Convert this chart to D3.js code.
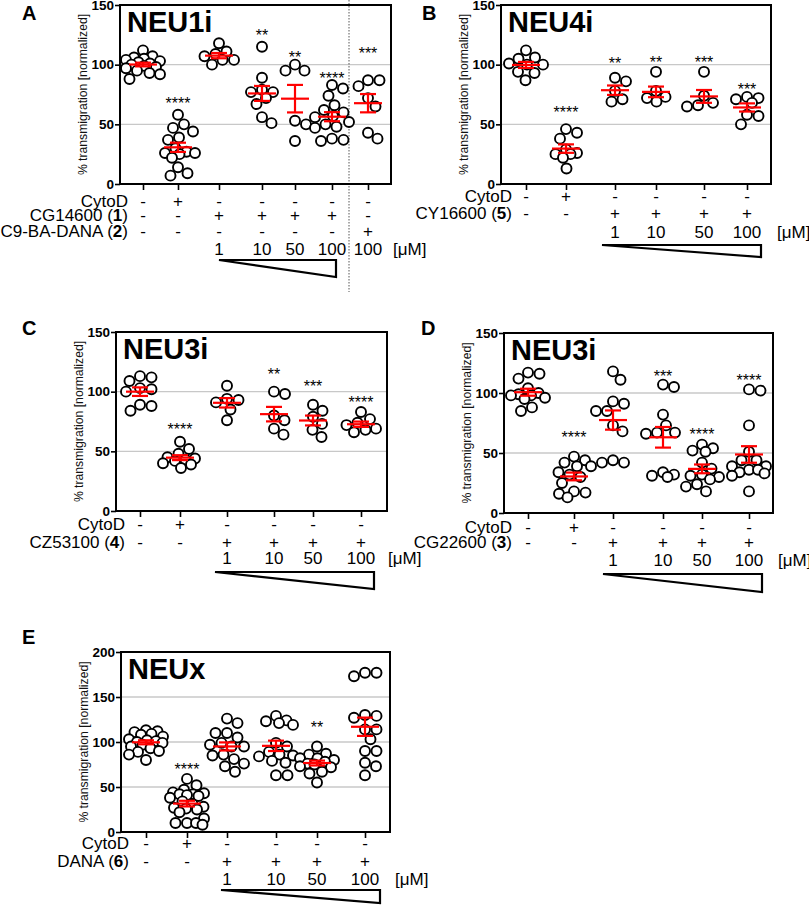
<!DOCTYPE html>
<html><head><meta charset="utf-8">
<script src="https://cdn.jsdelivr.net/npm/d3@7"></script>
<style>body{margin:0;background:#fff}svg{display:block}</style>
</head><body><svg id="c" width="809" height="905"></svg>
<script>
// ---------------- DATA ----------------
const ticks150 = [0, 50, 100, 150];
const ticks200 = [0, 50, 100, 150, 200];
const grid150 = [50, 100];
const grid200 = [50, 100, 150];

// Panel A
const A_title = "NEU1i";
const A_cols = ["ctrl", "cytoD", "c1", "c10", "c50", "c100", "dana100"];
const A_values = [
  [112,107,106,105,104,103,102,101,100,99,98,97,95,93,92,88],
  [58,50,47,44,39,37,30,27,26,26,25,22,14,9,7],
  [118,111,109,107,104,104,100],
  [115,89,79,77,77,72,67,56,51],
  [100,95,95,53,50,36],
  [83,80,74,66,62,60,57,56,52,50,48,47,38,37,36],
  [87,87,82,72,65,43,38]
];
const A_sig = ["", "****", "", "**", "**", "****", "***"];
const A_sigY = [null, 70, null, 127, 109, 91, 112];
const A_rowNames = ["CytoD", "CG14600", "C9-BA-DANA"];
const A_rowIds = [null, "1", "2"];
const A_rowSigns = [
  ["-","+","-","-","-","-","-"],
  ["-","-","+","+","+","+","-"],
  ["-","-","-","-","-","-","+"]
];
const A_conc = ["", "", "1", "10", "50", "100", "100"];

// Panel B
const B_title = "NEU4i";
const B_cols = ["ctrl", "cytoD", "c1", "c10", "c50", "c100"];
const B_values = [
  [112,106,105,101,100,100,94,93,87],
  [46,43,38,29,26,25,25,22,13],
  [89,86,78,71,69],
  [94,78,73,72,69],
  [94,74,68,66,65],
  [73,72,71,68,58,57,50]
];
const B_sig = ["", "****", "**", "**", "***", "***"];
const B_sigY = [null, 63, 104, 105, 104.5, 82];
const B_rowNames = ["CytoD", "CY16600"];
const B_rowIds = [null, "5"];
const B_rowSigns = [["-","+","-","-","-","-"], ["-","-","+","+","+","+"]];
const B_conc = ["", "", "1", "10", "50", "100"];

// Panel C
const C_title = "NEU3i";
const C_cols = ["ctrl", "cytoD", "c1", "c10", "c50", "c100"];
const C_values = [
  [113,112,109,103,102,100,89,88,84],
  [58,52,48,45,44,43,42,40,39,36],
  [105,94,93,91,85,76],
  [100,98,80,76,69,64],
  [89,84,79,73,68,62],
  [83,77,74,72,69,68,66]
];
const C_sig = ["", "****", "", "**", "***", "****"];
const C_sigY = [null, 71, null, 117, 107, 94];
const C_rowNames = ["CytoD", "CZ53100"];
const C_rowIds = [null, "4"];
const C_rowSigns = [["-","+","-","-","-","-"], ["-","-","+","+","+","+"]];
const C_conc = ["", "", "1", "10", "50", "100"];

// Panel D
const D_title = "NEU3i";
const D_cols = ["ctrl", "cytoD", "c1", "c10", "c50", "c100"];
const D_values = [
  [117,116,112,104,100,99,98,98,96,95,88,85],
  [47,44,42,39,39,34,32,30,25,18,17,16,13],
  [118,111,93,91,85,85,73,68,44,42,42],
  [107,105,82,73,67,67,66,34,32,31,30],
  [57,54,52,51,42,37,32,31,30,28,24,22,18],
  [103,102,73,51,44,44,39,39,36,36,34,33,31,18]
];
const D_sig = ["", "****", "", "***", "****", "****"];
const D_sigY = [null, 66, null, 117, 68, 113];
const D_rowNames = ["CytoD", "CG22600"];
const D_rowIds = [null, "3"];
const D_rowSigns = [["-","+","-","-","-","-"], ["-","-","+","+","+","+"]];
const D_conc = ["", "", "1", "10", "50", "100"];

// Panel E
const E_title = "NEUx";
const E_cols = ["ctrl", "cytoD", "c1", "c10", "c50", "c100"];
const E_values = [
  [113,112,111,109,108,106,103,102,101,100,99,97,95,93,90,89,86,80],
  [59,52,47,44,43,42,42,41,40,38,34,31,28,27,26,25,22,15,10,10,10,8],
  [126,121,110,110,105,99,97,95,95,86,85,81,76,73,67],
  [129,124,123,121,119,99,95,89,86,85,84,79,77,63,63],
  [95,87,86,82,82,80,78,76,75,73,72,67,65,55],
  [177,177,173,130,129,127,114,114,103,90,90,77,73,63]
];
const E_sig = ["", "****", "", "", "**", ""];
const E_sigY = [null, 73, null, null, 120, null];
const E_rowNames = ["CytoD", "DANA"];
const E_rowIds = [null, "6"];
const E_rowSigns = [["-","+","-","-","-","-"], ["-","-","+","+","+","+"]];
const E_conc = ["", "", "1", "10", "50", "100"];

const yLabel = "% transmigration [normalized]";
const unitLabel = "[\u03BCM]";

// ---------------- LAYOUT ----------------
const layouts = {
  A: {letter:"A", letterPos:[22,20], frame:[120,5,391,184], xs:[143,178,219,262,295,332,368],
      rows:[201,215,231], concY:249, labelX:128, unitX:393, tri:[219,260,336,277], divider:[349,0,292]},
  B: {letter:"B", letterPos:[422,20], frame:[501,5,771,184], xs:[526,566,615,656,704,747],
      rows:[196,213], concY:232, labelX:512, unitX:777, tri:[602,245,761,257]},
  C: {letter:"C", letterPos:[22,335], frame:[116,332,387,511], xs:[140,180,227,274,313,361],
      rows:[524,542], concY:558, labelX:125, unitX:388, tri:[215,572,374,589]},
  D: {letter:"D", letterPos:[421,335], frame:[504,333,773,513], xs:[528,574,613,663,702,749],
      rows:[527,542], concY:560, labelX:512, unitX:778, tri:[603,574,762,592]},
  E: {letter:"E", letterPos:[22,644], frame:[121,652,390,832], xs:[146,187,227,276,317,365],
      rows:[843,861], concY:879, labelX:129, unitX:395, tri:[221,890,380,903]}
};

const FONT = '"Liberation Sans", Arial, Helvetica, sans-serif';
const R = 5;
const MAXOFF = 17;
const svg = d3.select("#c");

// scatter-dot layout: spread points sideways, allow overlap when column is crowded
function swarm(vals, y) {
  const pts = vals.map(v => ({v, y: y(v)})).sort((a, b) => a.y - b.y);
  const placed = [];
  const dmin = 2 * R + 1.2;
  const cands = [0];
  for (let s = 0.5; s <= MAXOFF; s += 0.5) { cands.push(s, -s); }
  pts.forEach(p => {
    let best = 0, bestOv = Infinity;
    for (const c of cands) {
      let ov = 0;
      for (const q of placed) {
        const d = Math.hypot(q.dx - c, q.y - p.y);
        if (d < dmin) ov = Math.max(ov, dmin - d);
      }
      if (ov <= 0) { best = c; bestOv = 0; break; }
      if (ov < bestOv - 0.01) { bestOv = ov; best = c; }
    }
    p.dx = best;
    placed.push(p);
  });
  return placed;
}

function drawPanel(p, lay) {
  const g = svg.append("g");
  const [fx0, fy0, fx1, fy1] = lay.frame;
  const y = d3.scaleLinear().domain([0, p.yMax]).range([fy1, fy0]);
  const x = d3.scaleOrdinal().domain(p.cols).range(lay.xs);

  // grid
  g.selectAll("line.grid").data(p.grid).join("line").attr("class", "grid")
    .attr("x1", fx0).attr("x2", fx1).attr("y1", d => y(d)).attr("y2", d => y(d))
    .attr("stroke", "#c8c8c8").attr("stroke-width", 1.3);

  if (lay.divider) {
    const [dx, dy0, dy1] = lay.divider;
    g.append("line").attr("x1", dx).attr("x2", dx).attr("y1", dy0).attr("y2", dy1)
      .attr("stroke", "#444").attr("stroke-width", 0.9).attr("stroke-dasharray", "1.5,1.5");
  }

  // points
  p.values.forEach((vals, i) => {
    const cx = x(p.cols[i]);
    const pts = swarm(vals, y);
    g.append("g").selectAll("circle").data(pts).join("circle")
      .attr("cx", d => cx + d.dx).attr("cy", d => d.y).attr("r", R)
      .attr("fill", "#fff").attr("stroke", "#000").attr("stroke-width", 1.9);
  });

  // mean ± SEM
  p.values.forEach((vals, i) => {
    const cx = x(p.cols[i]);
    const m = d3.mean(vals);
    const sem = d3.deviation(vals) / Math.sqrt(vals.length);
    const rg = g.append("g").attr("stroke", "#ff0000").attr("stroke-width", 2.2).attr("fill", "none");
    rg.append("line").attr("x1", cx - 14).attr("x2", cx + 14).attr("y1", y(m)).attr("y2", y(m));
    rg.append("line").attr("x1", cx).attr("x2", cx).attr("y1", y(m - sem)).attr("y2", y(m + sem));
    rg.append("line").attr("x1", cx - 8).attr("x2", cx + 8).attr("y1", y(m - sem)).attr("y2", y(m - sem));
    rg.append("line").attr("x1", cx - 8).attr("x2", cx + 8).attr("y1", y(m + sem)).attr("y2", y(m + sem));
  });

  // significance
  p.sig.forEach((s, i) => {
    if (!s) return;
    g.append("text").attr("x", x(p.cols[i])).attr("y", y(p.sigY[i]) + 9)
      .attr("text-anchor", "middle").attr("font-family", FONT).attr("font-size", 16)
      .attr("fill", "#000").text(s);
  });

  // frame
  g.append("rect").attr("x", fx0).attr("y", fy0).attr("width", fx1 - fx0).attr("height", fy1 - fy0)
    .attr("fill", "none").attr("stroke", "#000").attr("stroke-width", 2);

  // y axis
  const ya = g.append("g").attr("transform", `translate(${fx0},0)`)
    .call(d3.axisLeft(y).tickValues(p.ticks).tickSize(5).tickPadding(1).tickFormat(d3.format("d")));
  ya.select(".domain").remove();
  ya.selectAll(".tick line").attr("stroke", "#000").attr("stroke-width", 1.6);
  ya.selectAll(".tick text").attr("font-family", FONT).attr("font-weight", "bold")
    .attr("font-size", 13.5).attr("fill", "#000");

  // x ticks
  const xa = g.append("g").attr("transform", `translate(0,${fy1})`)
    .call(d3.axisBottom(x).tickSize(6).tickFormat(""));
  xa.select(".domain").remove();
  xa.selectAll(".tick line").attr("stroke", "#000").attr("stroke-width", 1.6);

  // y label
  g.append("text").attr("transform", `translate(${fx0 - 33},${(fy0 + fy1) / 2}) rotate(-90)`)
    .attr("text-anchor", "middle").attr("font-family", FONT).attr("font-size", 12.2)
    .attr("fill", "#111").text(yLabel);

  // title
  g.append("text").attr("x", fx0 + 7).attr("y", fy0 + 27).attr("font-family", FONT)
    .attr("font-weight", "bold").attr("font-size", 29).attr("fill", "#000").text(p.title);

  // letter
  g.append("text").attr("x", lay.letterPos[0]).attr("y", lay.letterPos[1]).attr("font-family", FONT)
    .attr("font-weight", "bold").attr("font-size", 20).attr("fill", "#000").text(lay.letter);

  // row labels and signs
  p.rowNames.forEach((nm, r) => {
    const ry = lay.rows[r] + 6;
    const t = g.append("text").attr("x", lay.labelX).attr("y", ry).attr("text-anchor", "end")
      .attr("font-family", FONT).attr("font-size", 17).attr("fill", "#000");
    if (p.rowIds[r]) {
      t.append("tspan").text(nm + " (");
      t.append("tspan").attr("font-weight", "bold").text(p.rowIds[r]);
      t.append("tspan").text(")");
    } else t.text(nm);
    p.rowSigns[r].forEach((s, i) => {
      g.append("text").attr("x", x(p.cols[i])).attr("y", ry).attr("text-anchor", "middle")
        .attr("font-family", FONT).attr("font-size", 17).attr("fill", "#000").text(s);
    });
  });

  // concentrations
  p.conc.forEach((c, i) => {
    if (!c) return;
    g.append("text").attr("x", x(p.cols[i])).attr("y", lay.concY + 6).attr("text-anchor", "middle")
      .attr("font-family", FONT).attr("font-size", 17).attr("fill", "#000").text(c);
  });
  g.append("text").attr("x", lay.unitX).attr("y", lay.concY + 6)
    .attr("font-family", FONT).attr("font-size", 17).attr("fill", "#000").text(unitLabel);

  // triangle
  const [tx0, ty0, tx1, ty1] = lay.tri;
  g.append("path").attr("d", `M${tx0},${ty0}L${tx1},${ty0}L${tx1},${ty1}Z`)
    .attr("fill", "#fff").attr("stroke", "#000").attr("stroke-width", 2.2).attr("stroke-linejoin", "miter");
}

const panels = [
  {key:"A", title:A_title, cols:A_cols, values:A_values, sig:A_sig, sigY:A_sigY, rowNames:A_rowNames, rowIds:A_rowIds, rowSigns:A_rowSigns, conc:A_conc, yMax:150, ticks:ticks150, grid:grid150},
  {key:"B", title:B_title, cols:B_cols, values:B_values, sig:B_sig, sigY:B_sigY, rowNames:B_rowNames, rowIds:B_rowIds, rowSigns:B_rowSigns, conc:B_conc, yMax:150, ticks:ticks150, grid:grid150},
  {key:"C", title:C_title, cols:C_cols, values:C_values, sig:C_sig, sigY:C_sigY, rowNames:C_rowNames, rowIds:C_rowIds, rowSigns:C_rowSigns, conc:C_conc, yMax:150, ticks:ticks150, grid:grid150},
  {key:"D", title:D_title, cols:D_cols, values:D_values, sig:D_sig, sigY:D_sigY, rowNames:D_rowNames, rowIds:D_rowIds, rowSigns:D_rowSigns, conc:D_conc, yMax:150, ticks:ticks150, grid:grid150},
  {key:"E", title:E_title, cols:E_cols, values:E_values, sig:E_sig, sigY:E_sigY, rowNames:E_rowNames, rowIds:E_rowIds, rowSigns:E_rowSigns, conc:E_conc, yMax:200, ticks:ticks200, grid:grid200}
];
panels.forEach(p => drawPanel(p, layouts[p.key]));
</script></body></html>
